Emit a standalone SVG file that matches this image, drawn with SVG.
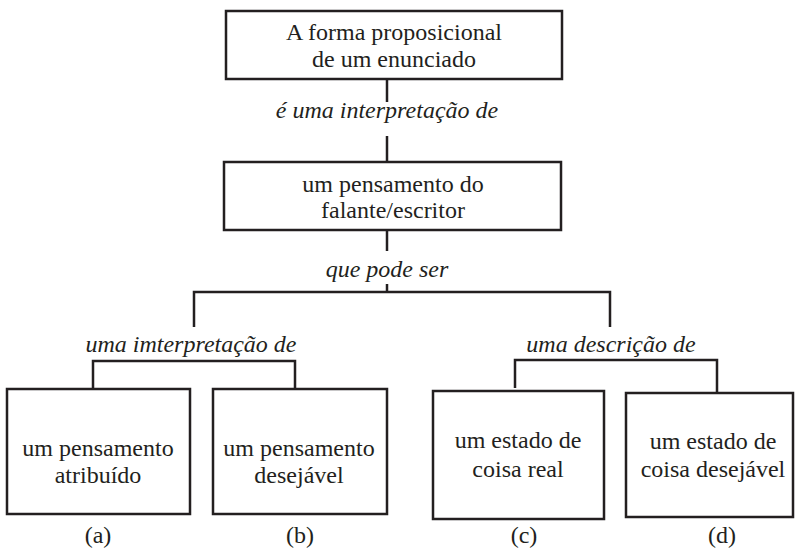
<svg xmlns="http://www.w3.org/2000/svg" width="795" height="550" viewBox="0 0 795 550" font-family="Liberation Serif, Times New Roman, Times, serif" font-size="24" xml:lang="pt">
<style>
  .box { fill: #ffffff; stroke: #231f20; stroke-width: 2.5; }
  .ln { fill: none; stroke: #231f20; stroke-width: 2.5; }
  .lbl { fill: #231f20; text-anchor: middle; }
  .i { font-style: italic; }
</style>
<rect width="795" height="550" fill="#ffffff"/>
<g id="connectors">
  <line class="ln" x1="387" y1="79" x2="387" y2="102"/>
  <line class="ln" x1="387" y1="136" x2="387" y2="162"/>
  <line class="ln" x1="387" y1="230" x2="387" y2="251"/>
  <line class="ln" x1="387" y1="284" x2="387" y2="292"/>
  <polyline class="ln" points="194,327 194,292 610,292 610,327"/>
  <polyline class="ln" points="93,390 93,361 295,361 295,392"/>
  <polyline class="ln" points="515,388 515,360 717,360 717,393"/>
  <text class="lbl i" x="387" y="118">é uma interpretação de</text>
  <text class="lbl i" x="387" y="277">que pode ser</text>
  <text class="lbl i" x="191" y="352">uma imterpretação de</text>
  <text class="lbl i" x="611" y="352">uma descrição de</text>
</g>
<g id="n1">
  <rect class="box" x="226" y="11" width="336" height="68"/>
  <text class="lbl" x="394" y="40">A forma proposicional</text>
  <text class="lbl" x="394" y="67">de um enunciado</text>
</g>
<g id="n2">
  <rect class="box" x="224" y="162" width="337" height="68"/>
  <text class="lbl" x="393" y="192">um pensamento do</text>
  <text class="lbl" x="393" y="218">falante/escritor</text>
</g>
<g id="na">
  <rect class="box" x="7" y="389" width="183" height="125"/>
  <text class="lbl" x="98" y="456">um pensamento</text>
  <text class="lbl" x="98" y="483">atribuído</text>
  <text class="lbl" x="98" y="543">(a)</text>
</g>
<g id="nb">
  <rect class="box" x="213" y="389" width="174" height="125"/>
  <text class="lbl" x="299" y="456">um pensamento</text>
  <text class="lbl" x="299" y="483">desejável</text>
  <text class="lbl" x="300" y="543">(b)</text>
</g>
<g id="nc">
  <rect class="box" x="433" y="391" width="171" height="128"/>
  <text class="lbl" x="518" y="448">um estado de</text>
  <text class="lbl" x="518" y="477">coisa real</text>
  <text class="lbl" x="524" y="543">(c)</text>
</g>
<g id="nd">
  <rect class="box" x="626" y="393" width="167" height="124"/>
  <text class="lbl" x="713" y="449">um estado de</text>
  <text class="lbl" x="713" y="477">coisa desejável</text>
  <text class="lbl" x="722" y="543">(d)</text>
</g>
</svg>
